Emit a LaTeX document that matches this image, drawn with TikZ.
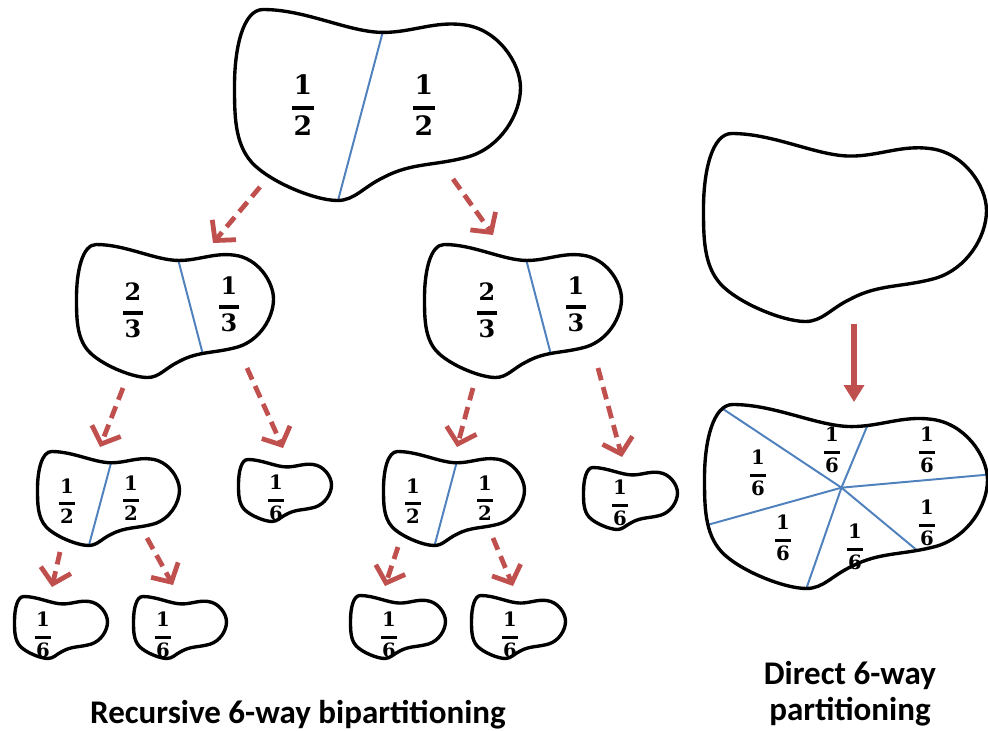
\documentclass[tikz,border=0pt]{standalone}
\usepackage{fontspec}
\newfontfamily\titlefont{Carlito}
\newfontfamily\fracfont{DejaVu Serif}
\usetikzlibrary{arrows.meta}

\definecolor{cutblue}{HTML}{4F81BD}
\definecolor{arrred}{HTML}{C0504D}

% fraction with a thick bar
\newcommand\frc[2]{\vbox{\offinterlineskip\halign{\hfil##\hfil\cr
  #1\cr\noalign{\kern0.44em}
  \vrule width0.8em height0.16em depth0pt\cr\noalign{\kern0.2em}
  #2\cr}}}

% outline of one region, unit box, y down
\def\blobpath{(0.10,0) .. controls (0.25,0) and (0.40,0.12) .. (0.52,0.12)
  .. controls (0.62,0.12) and (0.70,0.06) .. (0.80,0.08)
  .. controls (0.92,0.10) and (1,0.28) .. (1,0.41)
  .. controls (1,0.55) and (0.93,0.72) .. (0.82,0.77)
  .. controls (0.70,0.82) and (0.62,0.80) .. (0.52,0.88)
  .. controls (0.45,0.93) and (0.42,1) .. (0.36,1)
  .. controls (0.28,1) and (0.12,0.90) .. (0.06,0.80)
  .. controls (0,0.70) and (0,0.55) .. (0,0.40)
  .. controls (0,0.20) and (0.03,0) .. (0.10,0) -- cycle}
\def\halfcut{\draw[cut] (0.55,-0.06) -- (0.33,1.18);}
\def\thirdcut{\draw[cut] (0.48,-0.09) -- (0.69,1.10);}
\def\sixcut{\foreach \p in {{-0.34,-0.39},{0.68,-0.27},{1.52,0.31},{1.00,1.11},{0.24,1.53},{-0.40,0.83}}
  \draw[cut] (0.484,0.452) -- (\p);}

\tikzset{
  outline/.style={draw=black,line width=2.4pt},
  cut/.style={draw=cutblue,line width=1.4pt},
  fr/.style={inner sep=0pt,font=\fracfont\bfseries\fontsize{#1}{#1}\selectfont},
  title/.style={inner sep=0pt,font=\titlefont\bfseries\fontsize{23.5}{25.6}\selectfont},
  dasharr/.style={draw=arrred,line width=3.4pt,dash pattern=on 9pt off 5pt,
    -{Straight Barb[length=10pt,width=22pt]}},
  fullarr/.style={draw=arrred,line width=3.6pt,-{Triangle[length=12pt,width=14pt]}}
}

\begin{document}
\begin{tikzpicture}[x=0.025cm,y=-0.025cm]
\useasboundingbox (0,0) rectangle (988,731);

\foreach \bx/\by/\bw/\bh/\bc in {234.5/9.5/286/191/\halfcut,
    76.5/244.5/197/133/\thirdcut, 424.5/244.5/197/133/\thirdcut,
    37.5/451.5/142/94/\halfcut, 238.5/459.5/93/62/\relax,
    383.5/451.5/141/94/\halfcut, 583.5/467.5/94/62/\relax,
    14.5/596.5/93/62/\relax, 133.5/596.5/93/62/\relax,
    350.5/595.5/95/63/\relax, 471.5/595.5/94/63/\relax,
    703.5/133.5/283/188/\relax, 704.5/404.5/283/184/\sixcut} {
  \begin{scope}[shift={(\bx,\by)},xscale=\bw,yscale=\bh]
    \begin{scope}
      \clip \blobpath;
      \bc
    \end{scope}
    \draw[outline] \blobpath;
  \end{scope}
}

\foreach \x/\y/\a/\b/\s [count=\i] in {303/105/1/2/19, 424/105/1/2/19,
    133/310/2/3/17, 229/304/1/3/17, 487/310/2/3/17, 576/304/1/3/17,
    67/501/1/2/14, 131/498/1/2/14, 413/501/1/2/14, 485/498/1/2/14,
    276/498/1/6/14, 620/503/1/6/14,
    43/635/1/6/14, 163/635/1/6/14, 389/635/1/6/14, 510/635/1/6/14,
    758/473/1/6/14, 832/450/1/6/14, 927/450/1/6/14,
    783/538/1/6/14, 855/547/1/6/14, 927/523/1/6/14}
  \node[fr=\s] (f\i) at (\x,\y) {\frc{\a}{\b}};

\foreach \i/\ax/\ay/\bx/\by in {1/260/187/213/243, 2/453/179/493/235,
    3/123/388/100/447, 4/247/368/283/448, 5/473/388/457/447, 6/598/368/622/457,
    7/60/552/52/587, 8/147/538/173/585, 9/398/547/385/586, 10/493/538/513/586} {
  \coordinate (t\i) at (\ax,\ay);
  \coordinate (h\i) at (\bx,\by);
  \draw[dasharr] (t\i) -- (h\i);
}
\coordinate (t0) at (854,324);
\coordinate (h0) at (854,402);
\draw[fullarr] (t0) -- (h0);

\node[title,anchor=base] (rec) at (298,723) {Recursive 6-way bipartitioning};
\node[title,align=center] (dir) at (850,694) {Direct 6-way\\partitioning};
\end{tikzpicture}
\end{document}
